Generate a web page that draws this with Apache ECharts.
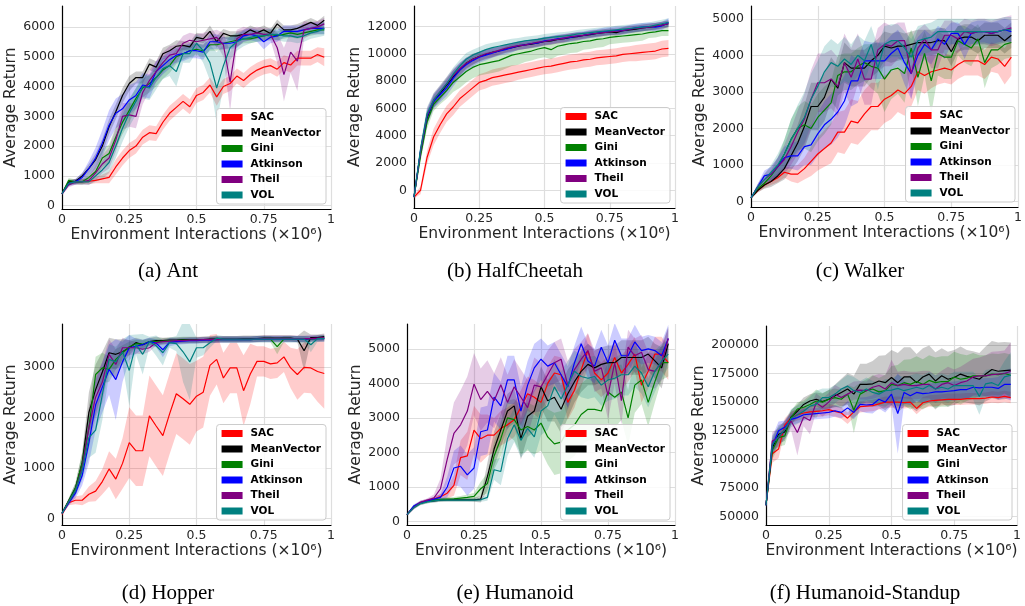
<!DOCTYPE html>
<html><head><meta charset="utf-8">
<script src="https://cdn.jsdelivr.net/npm/echarts@6/dist/echarts.min.js"></script>
<style>html,body{margin:0;padding:0;background:#fff}#c{width:1025px;height:606px}</style>
</head><body><div id="c"></div>
<script>
const seriesNames = ['SAC','MeanVector','Gini','Atkinson','Theil','VOL'];
const seriesColors = ['#ff0000','#000000','#008000','#0000ff','#800080','#008080'];
const xs = [0,0.025,0.05,0.075,0.1,0.125,0.15,0.175,0.2,0.225,0.25,0.275,0.3,0.325,0.35,0.375,0.4,0.425,0.45,0.475,0.5,0.525,0.55,0.575,0.6,0.625,0.65,0.675,0.7,0.725,0.75,0.775,0.8,0.825,0.85,0.875,0.9,0.925,0.95,0.975];
const xTicks = [0,0.25,0.5,0.75,1];
const captions = ['(a) Ant','(b) HalfCheetah','(c) Walker','(d) Hopper','(e) Humanoid','(f) Humanoid-Standup'];

// ---- Ant ----
const antTicks = [0,1000,2000,3000,4000,5000,6000];
const antSAC = [400,780,800,810,820,850,900,950,1300,1600,1850,2000,2300,2450,2420,2800,3100,3300,3500,3320,3700,3800,4050,3650,4000,4100,4350,4200,4400,4550,4650,4700,4580,4800,4720,4950,4950,4950,5070,4980];
const antSACsd = [50,80,80,80,100,100,150,200,250,250,250,250,250,250,250,250,250,250,250,250,250,250,250,300,250,250,250,250,250,250,250,250,250,250,250,250,250,250,250,300];
const antMV = [400,800,820,1000,1250,1550,2000,2650,3150,3700,4100,4300,4300,4750,4650,5100,5200,5350,5380,5330,5650,5600,5850,5500,5780,5700,5700,5750,5900,5800,5900,5780,6100,5900,5900,5950,6050,6150,6050,6220];
const antMVsd = [50,80,80,100,150,200,250,250,250,250,250,200,200,200,200,200,200,200,150,150,150,150,200,200,150,150,150,150,150,150,150,150,150,150,150,150,150,150,150,150];
const antGini = [400,850,800,800,950,1150,1600,1750,2300,2800,3200,3600,3950,4100,4300,4550,4700,5000,5100,5200,5250,5200,5400,5400,5450,5500,5550,5600,5600,5650,5700,5750,5700,5750,5800,5750,5800,5850,5900,5900];
const antGinisd = [50,80,80,100,150,200,300,300,350,400,400,350,300,300,300,300,250,250,200,200,200,200,200,200,200,200,200,150,150,150,150,150,150,150,150,150,150,150,150,150];
const antAtk = [400,750,800,950,1250,1600,2100,2700,3100,3250,3550,3700,4050,4000,4500,4700,4900,5050,5100,5200,5200,5150,5500,5500,5450,5450,5500,5700,5750,5700,5500,5650,5700,5850,5850,5850,5900,5950,5950,5950];
const antAtksd = [50,80,100,150,250,350,450,500,500,500,500,450,400,400,350,300,300,250,250,250,250,250,250,250,200,200,200,200,200,200,250,200,200,200,200,200,200,200,200,200];
const antTheil = [400,700,800,800,850,1100,1400,1600,2200,3000,3050,3000,3800,4200,4500,4800,5050,5100,5450,5550,5500,5550,5600,5650,5400,4150,5600,5750,5750,5800,5750,5750,5300,4400,5150,4850,5900,5950,6000,6100];
const antTheilsd = [50,80,100,100,150,250,300,350,400,450,400,400,400,350,350,350,300,300,250,250,250,250,250,250,400,1000,300,250,200,200,200,200,500,900,700,1000,300,200,200,200];
const antVOL = [400,750,800,800,800,1000,1200,1450,2000,2600,3100,3500,4000,3950,4300,4600,4700,4500,5100,5100,5450,5200,4800,3950,4700,5300,5500,5600,5650,5700,5700,5750,5750,5700,5700,5650,5700,5800,5850,5950];
const antVOLsd = [50,80,80,80,100,200,300,350,400,450,450,450,400,400,400,350,350,500,300,300,300,400,600,1200,700,400,300,250,200,200,200,200,200,200,200,200,200,200,200,250];

// ---- HalfCheetah ----
const hcTicks = [0,2000,4000,6000,8000,10000,12000];
const hcSAC = [-500,0,2400,3900,4800,5600,6100,6700,7100,7500,7900,8050,8250,8350,8450,8550,8650,8750,8850,8950,9050,9100,9200,9300,9400,9450,9550,9600,9700,9750,9800,9850,9950,10000,10050,10100,10150,10200,10350,10400];
const hcSACsd = [100,300,500,600,600,600,600,600,600,600,600,600,600,600,600,600,550,550,550,550,550,550,550,550,550,550,550,550,550,550,550,550,550,550,600,600,600,600,600,600];
const hcMV = [-500,2800,5300,6500,7100,7700,8300,8800,9300,9600,9800,9950,10100,10200,10350,10450,10550,10650,10700,10800,10900,10950,11050,11100,11200,11250,11350,11400,11500,11550,11600,11550,11700,11750,11800,11900,11950,12000,12100,12200];
const hcMVsd = [100,400,500,500,500,500,500,450,400,400,350,350,350,300,300,300,300,300,300,300,300,300,300,300,300,300,250,250,250,250,250,250,250,250,250,250,250,250,250,250];
const hcGini = [-500,2500,5000,6300,6800,7300,7900,8300,8700,9000,9200,9300,9400,9500,9700,9900,10000,10100,10200,10350,10450,10300,10550,10650,10750,10800,10900,10950,11050,11100,11200,11250,11300,11350,11400,11450,11550,11600,11700,11700];
const hcGinisd = [100,400,500,500,500,600,700,800,800,800,800,800,800,800,800,800,800,700,700,700,700,700,700,700,700,700,600,600,600,600,500,500,500,500,500,500,400,400,400,400];
const hcAtk = [-500,2900,5400,6500,7000,7500,8200,8800,9200,9500,9750,9900,10050,10200,10300,10450,10600,10650,10750,10800,10950,11000,11100,11150,11200,11300,11350,11450,11500,11600,11650,11700,11700,11800,11900,11950,12000,11950,12050,12300];
const hcAtksd = [100,400,500,500,550,600,600,550,500,450,400,400,350,350,350,350,300,300,300,300,300,300,300,300,300,300,300,300,300,300,300,300,300,300,300,300,300,300,300,300];
const hcTheil = [-500,2800,5500,6600,7200,7800,8400,8900,9300,9600,9800,10000,10100,10250,10400,10500,10600,10650,10750,10850,10900,11000,11050,11150,11250,11300,11350,11450,11500,11550,11600,11650,11700,11800,11850,11900,11950,12050,12100,12200];
const hcTheilsd = [100,400,500,500,500,500,500,450,400,400,350,350,350,300,300,300,300,300,300,300,300,300,300,300,250,250,250,250,250,250,250,250,250,250,250,250,250,250,250,250];
const hcVOL = [-500,3000,5600,6600,7200,7800,8500,9100,9600,9900,10100,10300,10450,10550,10650,10750,10850,10950,11000,11050,11150,11200,11250,11300,11350,11450,11500,11550,11600,11650,11700,11750,11800,11850,11900,11950,12000,12100,12200,12300];
const hcVOLsd = [100,400,500,500,500,500,500,450,450,400,400,400,350,350,350,350,300,300,300,300,300,300,300,300,300,300,300,300,300,300,300,300,300,300,300,300,300,300,300,300];

// ---- Walker ----
const wkTicks = [0,1000,2000,3000,4000,5000];
const wkSAC = [100,300,450,550,650,800,750,750,900,1100,1300,1450,1600,1900,1900,2200,2150,2400,2600,2600,2800,2900,3050,2950,3150,3550,3450,3550,3600,3650,3600,3750,3850,3850,3850,3750,3950,3900,3700,3950];
const wkSACsd = [20,50,80,100,120,150,200,250,300,400,450,500,550,550,600,600,600,650,650,650,650,650,600,600,550,500,500,450,400,400,400,400,400,400,400,400,400,400,500,500];
const wkMV = [100,300,450,550,700,900,1250,1600,2050,2600,2600,2850,3350,3100,3800,3650,3650,3650,3850,4000,4250,4200,4250,4250,4300,4350,4350,4350,4400,4400,4100,4450,4500,4500,4400,4550,4550,4550,4400,4550];
const wkMVsd = [20,50,100,150,200,300,400,500,600,650,650,650,600,600,550,500,500,500,450,450,400,400,400,350,350,350,350,350,350,350,400,350,350,350,350,350,350,350,350,350];
const wkGini = [100,350,500,700,950,1300,1700,2000,2100,2000,2300,2500,2700,3450,3550,3550,3700,3800,3700,3650,3350,3600,3650,3500,4200,3400,4050,3300,4050,3950,3950,4400,4300,4200,4450,3800,4150,4150,4300,4350];
const wkGinisd = [20,50,100,150,250,400,550,600,650,650,650,650,600,550,500,500,500,500,600,700,900,800,700,800,500,800,600,900,600,600,600,400,500,500,400,700,500,400,400,400];
const wkAtk = [100,400,700,750,950,1200,1250,1250,1500,1550,1850,2100,2250,2450,2750,3300,3300,3850,3850,3850,3850,4050,4200,3800,3500,4000,4300,4150,4450,4300,4600,4600,4300,4600,4650,4650,4600,4650,4700,4650];
const wkAtksd = [20,80,150,200,250,300,350,400,500,550,600,650,700,700,700,700,600,550,500,500,500,500,500,600,700,500,400,400,350,400,300,300,400,300,300,300,300,300,300,300];
const wkTheil = [100,400,600,750,950,1150,1500,1900,2250,2800,3250,3250,3350,3150,3800,3400,3900,3350,3350,4150,4300,4250,4400,4400,3500,4200,4450,4150,4150,4550,4550,4450,4650,4600,4650,4650,4600,4650,4700,4750];
const wkTheilsd = [20,80,150,200,250,400,500,600,700,800,800,800,800,800,800,800,700,700,700,600,600,550,500,500,700,500,400,500,500,400,400,400,350,350,350,350,350,350,350,350];
const wkVOL = [100,400,600,800,1000,1300,1700,2000,2300,2800,3150,3550,3800,3700,3900,3750,4000,3850,4300,3650,4300,4400,4400,4200,3950,4400,4450,4500,4650,4650,4650,4650,4650,4650,4650,4650,4650,4650,4700,4700];
const wkVOLsd = [20,80,150,200,300,400,550,650,700,700,700,700,650,600,600,550,550,550,500,600,500,450,450,450,500,400,400,400,350,350,350,350,350,350,350,350,350,350,350,350];

// ---- Hopper ----
const hpTicks = [0,1000,2000,3000];
const hpSAC = [80,310,360,360,480,540,730,980,780,1090,1500,1340,1340,2030,1830,1640,2070,2470,2370,2260,2420,2500,3030,3150,2780,2980,2980,2530,2860,3110,3110,3060,3080,3200,2980,2850,2990,2980,2910,2870];
const hpSACsd = [20,50,80,100,150,200,250,350,400,500,700,700,700,800,800,800,800,800,800,800,700,700,600,500,500,500,500,700,600,300,300,300,300,300,400,500,500,500,600,700];
const hpMV = [100,350,600,1100,2100,2550,2900,3280,3250,3300,3380,3480,3440,3500,3520,3520,3530,3530,3540,3540,3540,3540,3550,3550,3550,3550,3550,3560,3560,3560,3570,3570,3570,3570,3570,3550,3320,3580,3580,3600];
const hpMVsd = [20,50,100,200,400,500,400,300,300,250,150,100,100,80,80,60,60,60,60,60,60,60,60,60,60,60,60,60,60,60,60,60,60,60,60,60,400,60,60,60];
const hpGini = [100,350,600,1100,1800,2850,2980,2950,3150,3280,3400,3460,3450,3500,3500,3510,3520,3520,3530,3530,3530,3540,3540,3540,3540,3540,3540,3540,3540,3550,3550,3550,3400,3550,3550,3550,3550,3550,3560,3570];
const hpGinisd = [20,50,100,200,400,350,300,250,200,150,100,80,80,60,60,60,60,60,60,60,60,60,60,60,60,60,60,60,60,60,60,60,150,60,60,60,60,60,60,60];
const hpAtk = [100,300,500,850,1500,2250,2600,2950,2750,3100,3380,3410,3440,3500,3470,3340,3490,3500,3510,3520,3520,3530,3530,3540,3540,3540,3540,3540,3540,3550,3550,3550,3550,3550,3550,3550,3550,3560,3560,3560];
const hpAtksd = [20,50,100,200,400,500,500,500,800,400,250,150,100,80,80,150,80,60,60,60,60,60,60,60,60,60,60,60,60,60,60,60,60,60,60,60,60,60,60,60];
const hpTheil = [100,330,550,1000,1800,2400,2700,3250,3050,3380,3380,3380,3350,3380,3480,3500,3510,3520,3520,3530,3530,3540,3540,3540,3550,3550,3550,3550,3550,3550,3560,3560,3560,3560,3560,3560,3560,3560,3570,3580];
const hpTheilsd = [20,50,100,200,400,400,400,300,300,200,150,120,100,80,60,60,60,60,60,60,60,60,60,60,60,60,60,60,60,60,60,60,60,60,60,60,60,60,60,60];
const hpVOL = [100,330,550,950,1600,1750,2450,3150,3100,3300,2930,3440,3250,3500,3420,3280,3480,3460,3300,3100,3380,3380,3480,3570,3550,3550,3550,3550,3550,3550,3550,3550,3550,3550,3550,3550,3550,3440,3560,3560];
const hpVOLsd = [20,50,100,200,400,450,500,300,300,250,700,200,400,100,200,250,100,150,600,750,200,150,100,60,60,60,60,60,60,60,60,60,60,60,60,60,60,150,60,60];

// ---- Humanoid ----
const huTicks = [0,1000,2000,3000,4000,5000];
const huSAC = [200,420,550,600,650,720,820,1050,1850,1900,2650,2400,2500,2500,2700,2800,2950,3300,3700,3600,3450,4000,4300,4250,3450,3800,4400,4950,4300,4100,4300,4750,4300,4550,4850,3950,4350,4850,4850,4600];
const huSACsd = [30,50,50,50,60,80,150,300,500,700,700,700,600,500,500,500,500,500,500,500,500,500,500,500,500,500,500,500,500,500,500,500,500,500,500,500,500,500,500,500];
const huMV = [200,420,530,580,600,620,630,630,630,630,630,650,1300,2100,2650,3200,3350,2400,3050,3200,3900,3500,3600,3250,3700,4050,4350,4550,4450,4550,4600,4600,4750,4750,4750,4750,4850,4650,4450,5150];
const huMVsd = [30,50,50,50,50,50,50,50,50,50,60,100,400,500,500,500,500,600,600,600,600,600,700,700,700,600,600,600,500,500,500,500,500,500,500,500,500,500,600,500];
const huGini = [200,420,530,580,620,640,650,660,680,700,730,950,1100,1900,2400,3000,2950,2650,2750,2650,2850,2450,2250,2300,2650,2800,3100,3250,3250,3200,3750,3600,3750,3000,3950,4100,3450,4050,4600,4600];
const huGinisd = [30,50,50,50,50,50,50,50,60,80,100,200,300,400,500,500,600,700,700,700,800,800,900,900,900,900,900,900,900,900,900,900,800,800,800,700,700,600,500,400];
const huAtk = [200,450,550,600,650,700,1000,1550,1600,1350,1550,2600,2650,3600,3350,4100,4100,3200,3950,4450,4700,4500,4600,4250,3900,4600,5150,4650,4500,5050,4600,5250,4800,4800,5200,4950,5000,4950,4800,5300];
const huAtksd = [30,50,50,50,60,100,300,500,600,600,600,700,700,700,700,700,700,700,700,700,600,600,600,600,600,500,500,500,500,500,500,500,500,500,500,400,400,400,400,400];
const huTheil = [200,400,550,620,680,950,1800,2550,2800,3200,3980,3530,3770,3500,3960,3450,3900,3600,3300,3950,3900,4250,4600,4700,3950,4400,4700,4950,4350,4450,3650,4600,3500,5050,4800,4900,4400,4350,4600,5300];
const huTheilsd = [30,50,50,50,100,300,700,900,1000,1000,900,900,900,800,800,800,800,800,800,800,700,700,600,600,700,600,500,500,600,600,700,600,700,500,500,500,500,500,500,300];
const huVOL = [200,400,520,570,600,620,620,620,620,620,620,630,700,1500,1450,2400,2800,2350,2700,2450,3200,3350,3900,3550,3950,4350,4200,4150,4200,3950,4100,4150,4250,4250,4500,4300,3900,4350,4650,4850];
const huVOLsd = [30,50,50,50,50,50,50,50,50,50,50,60,100,300,400,500,500,500,600,600,700,700,800,800,700,600,600,600,600,600,600,600,600,600,600,600,600,600,500,400];

// ---- Humanoid-Standup ----
const hsTicks = [50000,75000,100000,125000,150000,175000,200000];
const hsSAC = [60000,105000,109000,130000,136500,139000,140500,141500,142000,142500,143500,142000,140500,136000,141500,146000,146500,147000,148500,150000,150000,150000,149500,150000,144500,149500,151000,151500,152000,152500,152500,152500,153000,153000,153000,153500,154500,154000,155000,154000];
const hsSACsd = [3000,8000,8000,6000,5000,5000,5000,5000,5000,5000,5000,5000,5000,5000,5000,5000,5000,5000,5000,5000,5000,5000,5000,5000,5000,5000,5000,5000,5000,5000,5000,5000,5000,5000,5000,5000,5000,5000,5000,5000];
const hsMV = [60000,110000,122000,124000,137000,142000,148000,151000,152500,150500,152500,155500,158500,161500,157000,165500,165500,166000,168500,167000,171500,167000,172000,172000,167000,172000,174500,168500,173000,170000,171500,174500,172500,171500,170000,174500,178500,177000,177500,178000];
const hsMVsd = [3000,8000,8000,8000,6000,6000,6000,6000,6000,7000,8000,10000,12000,14000,16000,18000,18000,20000,22000,24000,24000,26000,26000,26000,25000,25000,25000,25000,24000,24000,24000,24000,23000,23000,23000,24000,25000,25000,25000,24000];
const hsGini = [60000,108000,119000,120500,136500,144000,145500,148000,151000,150000,152500,154000,152500,157000,143000,157000,160000,161500,159000,160000,165500,164500,167000,165500,168000,165500,169000,167000,168000,168000,172000,170000,171000,173000,173000,173000,174500,174000,175000,173500];
const hsGinisd = [3000,8000,8000,8000,6000,6000,6000,8000,10000,8000,8000,8000,8000,8000,20000,10000,10000,12000,12000,14000,16000,18000,20000,22000,22000,22000,22000,22000,22000,22000,22000,22000,20000,20000,18000,18000,18000,18000,18000,18000];
const hsAtk = [60000,112000,125000,128000,135000,136500,139000,139500,140000,140500,141000,142500,141000,145000,141000,148000,147500,148000,152500,150000,157000,140000,158500,155500,158500,157500,158000,159000,159000,159500,160000,161000,161000,163000,162500,163000,163000,162000,165500,165500];
const hsAtksd = [3000,8000,8000,6000,5000,5000,5000,5000,5000,5000,5000,5000,5000,6000,6000,6000,7000,8000,8000,9000,10000,35000,10000,8000,8000,8000,8000,8000,8000,8000,8000,8000,8000,8000,8000,8000,8000,10000,12000,14000];
const hsTheil = [60000,116000,119000,126000,133500,123500,137000,134000,149500,145500,150000,157000,154000,157000,160000,160500,160000,163000,164500,161500,167000,164500,165500,164500,164500,165500,165500,161500,165500,167000,164500,167000,168500,172000,173000,173000,174000,174500,175000,177000];
const hsTheilsd = [3000,8000,8000,8000,8000,20000,8000,12000,8000,8000,8000,8000,8000,8000,8000,8000,8000,10000,10000,12000,20000,12000,12000,12000,12000,12000,12000,12000,12000,14000,14000,14000,16000,16000,16000,18000,20000,20000,20000,25000];
const hsVOL = [60000,113000,120000,126000,136000,139000,142000,146500,148000,154000,154000,157000,161500,164000,160000,158500,161500,158500,157000,160000,160500,162000,160000,161500,163000,161500,164500,161500,163000,161500,164500,164500,164500,164500,155000,166000,167000,164500,172000,173500];
const hsVOLsd = [3000,8000,8000,8000,8000,8000,8000,8000,12000,8000,8000,8000,8000,10000,12000,10000,10000,10000,10000,10000,10000,12000,12000,12000,12000,12000,12000,12000,12000,12000,12000,12000,12000,12000,16000,12000,12000,12000,14000,20000];

// ---- panel assembly ----
const panels = [
  {means:[antSAC,antMV,antGini,antAtk,antTheil,antVOL], sds:[antSACsd,antMVsd,antGinisd,antAtksd,antTheilsd,antVOLsd], ticks:antTicks, ymin:-110, ymax:6700,
   grid:{left:62,top:6,width:269,height:203}, nameGap:35, cap:{x:163,y:256}},
  {means:[hcSAC,hcMV,hcGini,hcAtk,hcTheil,hcVOL], sds:[hcSACsd,hcMVsd,hcGinisd,hcAtksd,hcTheilsd,hcVOLsd], ticks:hcTicks, ymin:-1300, ymax:13500,
   grid:{left:414,top:6,width:261,height:202}, nameGap:40, cap:{x:510,y:256}},
  {means:[wkSAC,wkMV,wkGini,wkAtk,wkTheil,wkVOL], sds:[wkSACsd,wkMVsd,wkGinisd,wkAtksd,wkTheilsd,wkVOLsd], ticks:wkTicks, ymin:-150, ymax:5350,
   grid:{left:751,top:6,width:269,height:201}, nameGap:32, cap:{x:855,y:256}},
  {means:[hpSAC,hpMV,hpGini,hpAtk,hpTheil,hpVOL], sds:[hpSACsd,hpMVsd,hpGinisd,hpAtksd,hpTheilsd,hpVOLsd], ticks:hpTicks, ymin:-130, ymax:3850,
   grid:{left:62,top:324,width:269,height:201}, nameGap:35, cap:{x:163,y:578}},
  {means:[huSAC,huMV,huGini,huAtk,huTheil,huVOL], sds:[huSACsd,huMVsd,huGinisd,huAtksd,huTheilsd,huVOLsd], ticks:huTicks, ymin:-100, ymax:5720,
   grid:{left:407,top:324,width:268,height:201}, nameGap:33, cap:{x:510,y:578}},
  {means:[hsSAC,hsMV,hsGini,hsAtk,hsTheil,hsVOL], sds:[hsSACsd,hsMVsd,hsGinisd,hsAtksd,hsTheilsd,hsVOLsd], ticks:hsTicks, ymin:42700, ymax:216500,
   grid:{left:766,top:326,width:251,height:199}, nameGap:49, cap:{x:860,y:578}}
];

const textColor = '#262626';
const gridColor = '#dedede';
const grids = [], xAxes = [], yAxes = [], series = [], legends = [], titles = [];

function bandSeries(gi, mean, sd, color) {
  const data = xs.map((x, i) => [x, mean[i] - sd[i], mean[i] + sd[i]]);
  return {
    type: 'custom', xAxisIndex: gi, yAxisIndex: gi, silent: true, clip: true,
    data: data, encode: {x: 0, y: [1, 2]},
    renderItem: function (params, api) {
      if (params.dataIndex !== 0) return null;
      const up = [], lo = [];
      for (let i = 0; i < data.length; i++) {
        up.push(api.coord([data[i][0], data[i][2]]));
        lo.push(api.coord([data[i][0], data[i][1]]));
      }
      return {type: 'polygon', shape: {points: up.concat(lo.reverse())},
              style: {fill: color, opacity: 0.2, stroke: null}};
    }
  };
}

panels.forEach((p, gi) => {
  grids.push(Object.assign({containLabel: false}, p.grid));
  xAxes.push({
    type: 'value', gridIndex: gi, min: 0, max: 1,
    name: 'Environment Interactions (×10⁶)', nameLocation: 'middle', nameGap: 18,
    nameTextStyle: {fontFamily: 'DejaVu Sans', fontSize: 15.5, color: textColor},
    axisLine: {show: true, onZero: false, lineStyle: {color: '#000', width: 1.2}},
    axisTick: {show: false, customValues: xTicks},
    axisLabel: {customValues: xTicks, fontFamily: 'DejaVu Sans', fontSize: 12.5, color: textColor, margin: 4,
                formatter: v => String(v)},
    splitLine: {show: true, lineStyle: {color: gridColor, width: 1.2}}
  });
  yAxes.push({
    type: 'value', gridIndex: gi, min: p.ymin, max: p.ymax,
    name: 'Average Return', nameLocation: 'middle', nameGap: p.nameGap,
    nameTextStyle: {fontFamily: 'DejaVu Sans', fontSize: 15.5, color: textColor},
    axisLine: {show: true, lineStyle: {color: '#000', width: 1.2}},
    axisTick: {show: false, customValues: p.ticks},
    axisLabel: {customValues: p.ticks, fontFamily: 'DejaVu Sans', fontSize: 12.5, color: textColor, margin: 7,
                formatter: v => String(v)},
    splitLine: {show: true, lineStyle: {color: gridColor, width: 1.2}}
  });
  seriesNames.forEach((nm, si) => {
    series.push(bandSeries(gi, p.means[si], p.sds[si], seriesColors[si]));
    series.push({
      type: 'line', name: nm, xAxisIndex: gi, yAxisIndex: gi, color: seriesColors[si],
      data: xs.map((x, i) => [x, p.means[si][i]]),
      showSymbol: false, symbol: 'none', lineStyle: {width: 1.2, color: seriesColors[si]},
      itemStyle: {color: seriesColors[si]}, clip: true
    });
  });
  const gRight = p.grid.left + p.grid.width, gBottom = p.grid.top + p.grid.height;
  legends.push({
    data: seriesNames, orient: 'vertical', right: 1025 - (gRight - 5), bottom: 606 - (gBottom - 5),
    icon: 'rect', itemWidth: 21, itemHeight: 7, itemGap: 3.5, selectedMode: false,
    backgroundColor: 'rgba(255,255,255,0.85)', borderColor: '#cccccc', borderWidth: 1, borderRadius: 3,
    padding: [3, 5, 3, 5],
    textStyle: {fontFamily: 'DejaVu Sans', fontWeight: 'bold', fontSize: 10.5, color: '#000', lineHeight: 12, padding: [0, 0, 0, 3]}
  });
  titles.push({
    text: captions[gi], left: p.cap.x, top: p.cap.y, textAlign: 'center',
    textStyle: {fontFamily: 'Liberation Serif', fontSize: 21, fontWeight: 'normal', color: '#000'}
  });
});

const chart = echarts.init(document.getElementById('c'), null, {renderer: 'canvas'});
chart.setOption({
  animation: false, backgroundColor: '#ffffff',
  title: titles, grid: grids, xAxis: xAxes, yAxis: yAxes, legend: legends, series: series
});
</script></body></html>
